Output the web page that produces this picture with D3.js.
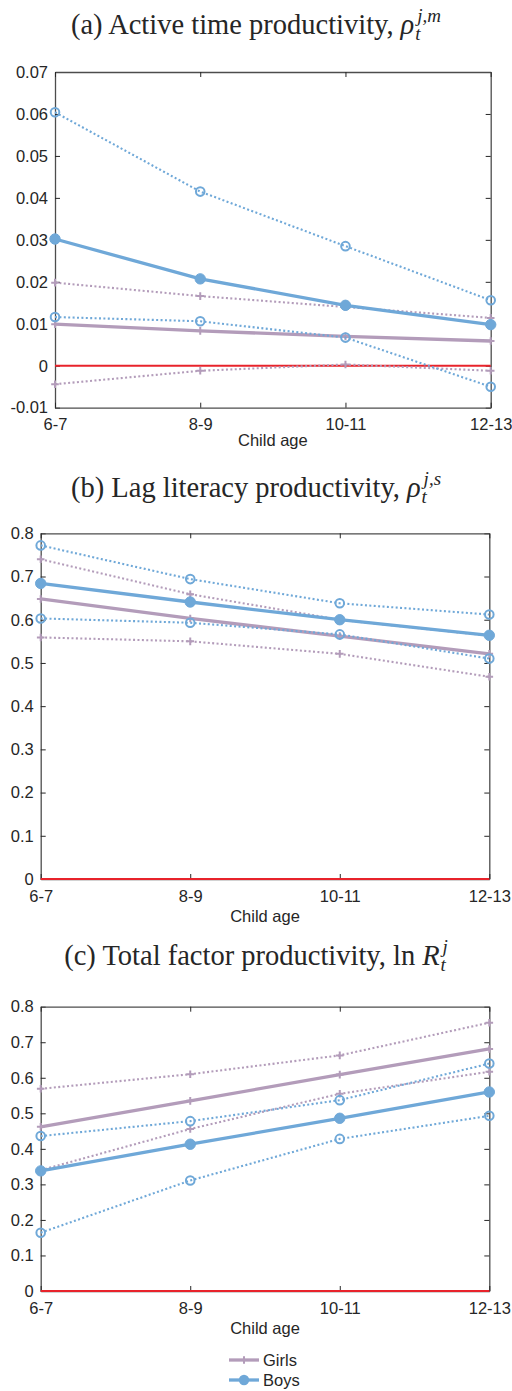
<!DOCTYPE html>
<html>
<head>
<meta charset="utf-8">
<script src="https://cdn.jsdelivr.net/npm/d3@7"></script>
<style>
  body { margin: 0; background: #fff; }
  svg text { fill: #262626; }
</style>
</head>
<body>
<div id="chart"></div>
<script>
// categories
var ages = ["6-7", "8-9", "10-11", "12-13"];

// (a) active time productivity
var activeGirls   = [0.0099, 0.0083, 0.0070, 0.0059];
var activeGirlsLo = [-0.0044, -0.0012, 0.0003, -0.0012];
var activeGirlsHi = [0.0198, 0.0166, 0.0140, 0.0114];
var activeBoys    = [0.0302, 0.0207, 0.0144, 0.0098];
var activeBoysLo  = [0.0116, 0.0106, 0.0067, -0.0050];
var activeBoysHi  = [0.0604, 0.0415, 0.0285, 0.0156];
var activeTicks   = [-0.01, 0, 0.01, 0.02, 0.03, 0.04, 0.05, 0.06, 0.07];

// (b) lag literacy productivity
var litGirls   = [0.648, 0.603, 0.562, 0.521];
var litGirlsLo = [0.559, 0.550, 0.521, 0.468];
var litGirlsHi = [0.740, 0.659, 0.600, 0.563];
var litBoys    = [0.684, 0.641, 0.600, 0.564];
var litBoysLo  = [0.603, 0.593, 0.566, 0.510];
var litBoysHi  = [0.772, 0.694, 0.638, 0.612];
var litTicks   = [0, 0.1, 0.2, 0.3, 0.4, 0.5, 0.6, 0.7, 0.8];

// (c) total factor productivity
var tfpGirls   = [0.462, 0.535, 0.609, 0.681];
var tfpGirlsLo = [0.340, 0.456, 0.555, 0.617];
var tfpGirlsHi = [0.569, 0.610, 0.663, 0.755];
var tfpBoys    = [0.338, 0.413, 0.486, 0.560];
var tfpBoysLo  = [0.164, 0.311, 0.428, 0.493];
var tfpBoysHi  = [0.436, 0.478, 0.537, 0.640];
var tfpTicks   = [0, 0.1, 0.2, 0.3, 0.4, 0.5, 0.6, 0.7, 0.8];

var legendNames = ["Girls", "Boys"];

var girlsColor = "#b39cba",
    boysColor = "#6fa8d8",
    zeroColor = "#e8232b",
    axisColor = "#4d4d4d";

var width = 512, height = 1391;
var serif = "'Liberation Serif', 'DejaVu Serif', serif";

var svg = d3.select("#chart").append("svg")
    .attr("width", width)
    .attr("height", height)
    .style("font-family", "'Liberation Sans', Arial, sans-serif");

function drawTitle(cx, baseline, main, sym, sub, sup) {
    var g = svg.append("g");
    var t = g.append("text")
        .attr("y", baseline)
        .style("font-family", serif)
        .style("font-size", "28.5px")
        .text(main);
    var w1 = t.node().getComputedTextLength() + 7;
    var s = g.append("text")
        .attr("x", w1)
        .attr("y", baseline)
        .style("font-family", serif)
        .style("font-size", "28.5px")
        .style("font-style", "italic")
        .text(sym);
    var x0 = w1 + s.node().getComputedTextLength() + 1;
    var sb = g.append("text")
        .attr("x", x0)
        .attr("y", baseline + 6)
        .style("font-family", serif)
        .style("font-size", "19px")
        .style("font-style", "italic")
        .text(sub);
    var sp = g.append("text")
        .attr("x", x0 + 2)
        .attr("y", baseline - 12)
        .style("font-family", serif)
        .style("font-size", "19px")
        .style("font-style", "italic")
        .text(sup);
    var total = Math.max(x0 + sb.node().getComputedTextLength(), x0 + 2 + sp.node().getComputedTextLength());
    g.attr("transform", "translate(" + (cx - total / 2) + ",0)");
}

function plusPath(x, y, r) {
    return "M" + (x - r) + "," + y + "H" + (x + r) + "M" + x + "," + (y - r) + "V" + (y + r);
}

function drawPanel(cfg) {
    var x = d3.scalePoint().domain(ages).range([cfg.left, cfg.right]).padding(0);
    var y = d3.scaleLinear().domain(cfg.domain).range([cfg.bottom, cfg.top]);
    var fmt = function(d) { return d === 0 ? "0" : d.toFixed(cfg.digits); };

    var axes = svg.append("g").attr("class", "axes");

    axes.append("g")
        .attr("transform", "translate(" + cfg.left + ",0)")
        .call(d3.axisLeft(y).tickValues(cfg.ticks).tickFormat(fmt).tickSizeInner(-5).tickSizeOuter(0).tickPadding(7));
    axes.append("g")
        .attr("transform", "translate(" + cfg.right + ",0)")
        .call(d3.axisRight(y).tickValues(cfg.ticks).tickFormat("").tickSizeInner(-5).tickSizeOuter(0));
    axes.append("g")
        .attr("transform", "translate(0," + cfg.bottom + ")")
        .call(d3.axisBottom(x).tickSizeInner(-5).tickSizeOuter(0).tickPadding(11));
    axes.append("g")
        .attr("transform", "translate(0," + cfg.top + ")")
        .call(d3.axisTop(x).tickFormat("").tickSizeInner(-5).tickSizeOuter(0));

    axes.selectAll("g").attr("font-size", null).attr("font-family", null);
    axes.selectAll(".domain").attr("stroke", axisColor).attr("stroke-width", 1.3);
    axes.selectAll(".tick line").attr("stroke", "#262626").attr("stroke-width", 1);
    axes.selectAll(".tick text")
        .style("font-family", "'Liberation Sans', Arial, sans-serif")
        .style("font-size", "16.5px")
        .attr("fill", "#262626");

    svg.append("text")
        .attr("x", (cfg.left + cfg.right) / 2)
        .attr("y", cfg.labelY)
        .attr("text-anchor", "middle")
        .style("font-size", "16.5px")
        .text("Child age");

    // zero line
    svg.append("line")
        .attr("x1", cfg.left).attr("x2", cfg.right)
        .attr("y1", y(0)).attr("y2", y(0))
        .attr("stroke", zeroColor)
        .attr("stroke-width", 1.8);

    var line = d3.line()
        .x(function(d, i) { return x(ages[i]); })
        .y(function(d) { return y(d); });

    var series = [
        { v: cfg.girlsHi, c: girlsColor, dot: true, m: "plus" },
        { v: cfg.girlsLo, c: girlsColor, dot: true, m: "plus" },
        { v: cfg.girls, c: girlsColor, dot: false, m: "plus" },
        { v: cfg.boysHi, c: boysColor, dot: true, m: "open" },
        { v: cfg.boysLo, c: boysColor, dot: true, m: "open" },
        { v: cfg.boys, c: boysColor, dot: false, m: "fill" }
    ];

    series.forEach(function(s) {
        var g = svg.append("g");
        g.append("path")
            .datum(s.v)
            .attr("d", line)
            .attr("fill", "none")
            .attr("stroke", s.c)
            .attr("stroke-width", s.dot ? 2.1 : 3.3)
            .attr("stroke-dasharray", s.dot ? "2,2.4" : null)
            .attr("stroke-linecap", "butt");

        if (s.m === "plus") {
            g.selectAll("path.mk").data(s.v).enter().append("path")
                .attr("class", "mk")
                .attr("d", function(d, i) { return plusPath(x(ages[i]), y(d), 3.8); })
                .attr("stroke", s.c)
                .attr("stroke-width", 2);
        } else {
            g.selectAll("circle").data(s.v).enter().append("circle")
                .attr("cx", function(d, i) { return x(ages[i]); })
                .attr("cy", function(d) { return y(d); })
                .attr("r", s.m === "fill" ? 5.2 : 4.3)
                .attr("fill", s.m === "fill" ? s.c : "none")
                .attr("stroke", s.c)
                .attr("stroke-width", s.m === "fill" ? 1 : 2);
        }
    });
}

drawTitle(256, 34, "(a) Active time productivity,", "\u03c1", "t", "j,m");
drawPanel({
    top: 72, bottom: 407.7, left: 55, right: 490.7,
    domain: [-0.01, 0.07], ticks: activeTicks, digits: 2, labelY: 446,
    girls: activeGirls, girlsLo: activeGirlsLo, girlsHi: activeGirlsHi,
    boys: activeBoys, boysLo: activeBoysLo, boysHi: activeBoysHi
});

drawTitle(256, 497, "(b) Lag literacy productivity,", "\u03c1", "t", "j,s");
drawPanel({
    top: 533.3, bottom: 879, left: 40.7, right: 489.3,
    domain: [0, 0.8], ticks: litTicks, digits: 1, labelY: 922,
    girls: litGirls, girlsLo: litGirlsLo, girlsHi: litGirlsHi,
    boys: litBoys, boysLo: litBoysLo, boysHi: litBoysHi
});

drawTitle(256, 965, "(c) Total factor productivity, ln", "R", "t", "j");
drawPanel({
    top: 1006.7, bottom: 1291, left: 40.7, right: 489.3,
    domain: [0, 0.8], ticks: tfpTicks, digits: 1, labelY: 1334,
    girls: tfpGirls, girlsLo: tfpGirlsLo, girlsHi: tfpGirlsHi,
    boys: tfpBoys, boysLo: tfpBoysLo, boysHi: tfpBoysHi
});

// legend
var legend = svg.append("g").attr("class", "legend");
legendNames.forEach(function(name, i) {
    var ly = 1360 + i * 20;
    var c = i === 0 ? girlsColor : boysColor;
    legend.append("line")
        .attr("x1", 229).attr("x2", 259)
        .attr("y1", ly).attr("y2", ly)
        .attr("stroke", c).attr("stroke-width", 3.3);
    if (i === 0) {
        legend.append("path")
            .attr("d", plusPath(244, ly, 3.8))
            .attr("stroke", c).attr("stroke-width", 2);
    } else {
        legend.append("circle")
            .attr("cx", 244).attr("cy", ly).attr("r", 5.2)
            .attr("fill", c);
    }
    legend.append("text")
        .attr("x", 263).attr("y", ly + 6)
        .style("font-size", "16.5px")
        .text(name);
});
</script>
</body>
</html>
